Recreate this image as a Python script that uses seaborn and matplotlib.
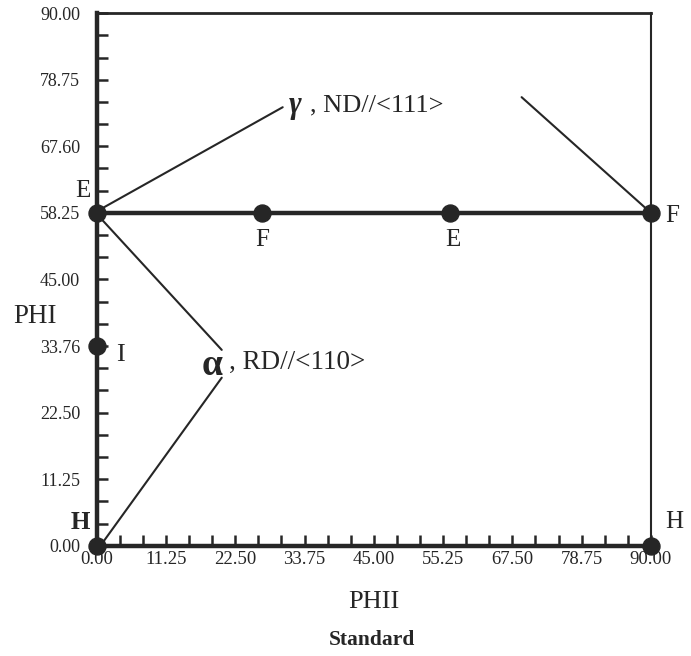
import numpy as np
import pandas as pd
import matplotlib
matplotlib.use('Agg')
import matplotlib.pyplot as plt
import seaborn as sns

# orientation points (PHII, PHI)
point_names = ['E', 'F', 'E', 'F', 'I', 'H', 'H']
point_phi2 = [0.0, 26.8, 57.3, 90.0, 0.0, 0.0, 90.0]
point_phi = [56.25, 56.25, 56.25, 56.25, 33.75, 0.0, 0.0]

# gamma fibre
fibre_phi2 = [0.0, 90.0]
fibre_phi = [56.25, 56.25]

# leader lines to the fibre labels
gamma_left_phi2 = [0.5, 30.2]
gamma_left_phi = [56.8, 74.1]
gamma_right_phi2 = [69.0, 90.0]
gamma_right_phi = [75.8, 56.25]
alpha_top_phi2 = [0.5, 20.3]
alpha_top_phi = [55.5, 33.1]
alpha_bot_phi2 = [0.8, 20.3]
alpha_bot_phi = [0.3, 28.4]

tick_vals = [0, 11.25, 22.5, 33.75, 45, 56.25, 67.5, 78.75, 90]
x_tick_labels = ['0.00', '11.25', '22.50', '33.75', '45.00', '55.25', '67.50', '78.75', '90.00']
y_tick_labels = ['0.00', '11.25', '22.50', '33.76', '45.00', '58.25', '67.60', '78.75', '90.00']

sns.set_style('white')
plt.rcParams['font.family'] = ['Liberation Serif', 'DejaVu Serif']

ink = '#262626'
fig = plt.figure(figsize=(6.91, 6.56), dpi=100)
ax = fig.add_axes([0.140, 0.168, 0.802, 0.812])

sns.lineplot(x=fibre_phi2, y=fibre_phi, ax=ax, color=ink, linewidth=3.2, sort=False)
for xs, ys in [(gamma_left_phi2, gamma_left_phi), (gamma_right_phi2, gamma_right_phi),
               (alpha_top_phi2, alpha_top_phi), (alpha_bot_phi2, alpha_bot_phi)]:
    sns.lineplot(x=xs, y=ys, ax=ax, color=ink, linewidth=1.5, sort=False)

pts = pd.DataFrame({'phi2': point_phi2, 'phi': point_phi})
sns.scatterplot(data=pts, x='phi2', y='phi', ax=ax, color=ink, s=150, edgecolor=ink, zorder=5)
for c in ax.collections:
    c.set_clip_on(False)

ax.set_xlim(0, 90)
ax.set_ylim(0, 90)
ax.set_xticks(tick_vals)
ax.set_xticklabels(x_tick_labels)
ax.set_yticks(tick_vals)
ax.set_yticklabels(y_tick_labels)
ax.set_xticks(np.arange(0, 90.1, 3.75), minor=True)
ax.set_yticks(np.arange(0, 90.1, 3.75), minor=True)
ax.tick_params(which='both', direction='in', length=8, width=1.8, color=ink,
               top=False, right=False, bottom=True, left=True)
ax.tick_params(axis='y', which='major', pad=12, labelsize=13)
ax.tick_params(axis='x', which='major', pad=4, labelsize=13.5)

ax.spines['left'].set_linewidth(3.2)
ax.spines['bottom'].set_linewidth(3.2)
ax.spines['top'].set_linewidth(2.0)
ax.spines['right'].set_linewidth(1.5)
for s in ax.spines.values():
    s.set_color(ink)

ax.set_xlabel('PHII', fontsize=19, labelpad=16)
ax.set_ylabel('')

# point labels
ax.text(-1.0, 60.0, 'E', fontsize=18, ha='right', va='center', clip_on=False)
ax.text(26.8, 51.6, 'F', fontsize=18, ha='center', va='center')
ax.text(57.8, 51.6, 'E', fontsize=18, ha='center', va='center')
ax.text(92.3, 55.8, 'F', fontsize=18, ha='left', va='center', clip_on=False)
ax.text(3.2, 32.2, 'I', fontsize=19, ha='left', va='center')
ax.text(-1.1, 4.0, 'H', fontsize=18, fontweight='bold', ha='right', va='center', clip_on=False)
ax.text(92.3, 4.0, 'H', fontsize=18, ha='left', va='center', clip_on=False)
ax.text(-13.6, 38.8, 'PHI', fontsize=19.5, ha='left', va='center', clip_on=False)

# fibre labels
ax.text(31.2, 74.4, 'γ', fontsize=22, fontweight='bold', style='italic', ha='left', va='center')
ax.text(34.7, 74.4, ', ND//<111>', fontsize=19, ha='left', va='center')
ax.text(17.1, 30.4, 'α', fontsize=27, fontweight='bold', ha='left', va='center')
ax.text(21.5, 31.0, ', RD//<110>', fontsize=19.5, ha='left', va='center')

fig.text(0.538, 0.024, 'Standard', fontsize=15.5, fontweight='bold', ha='center', va='center')

fig.savefig('out.png', dpi=100, facecolor='white')
